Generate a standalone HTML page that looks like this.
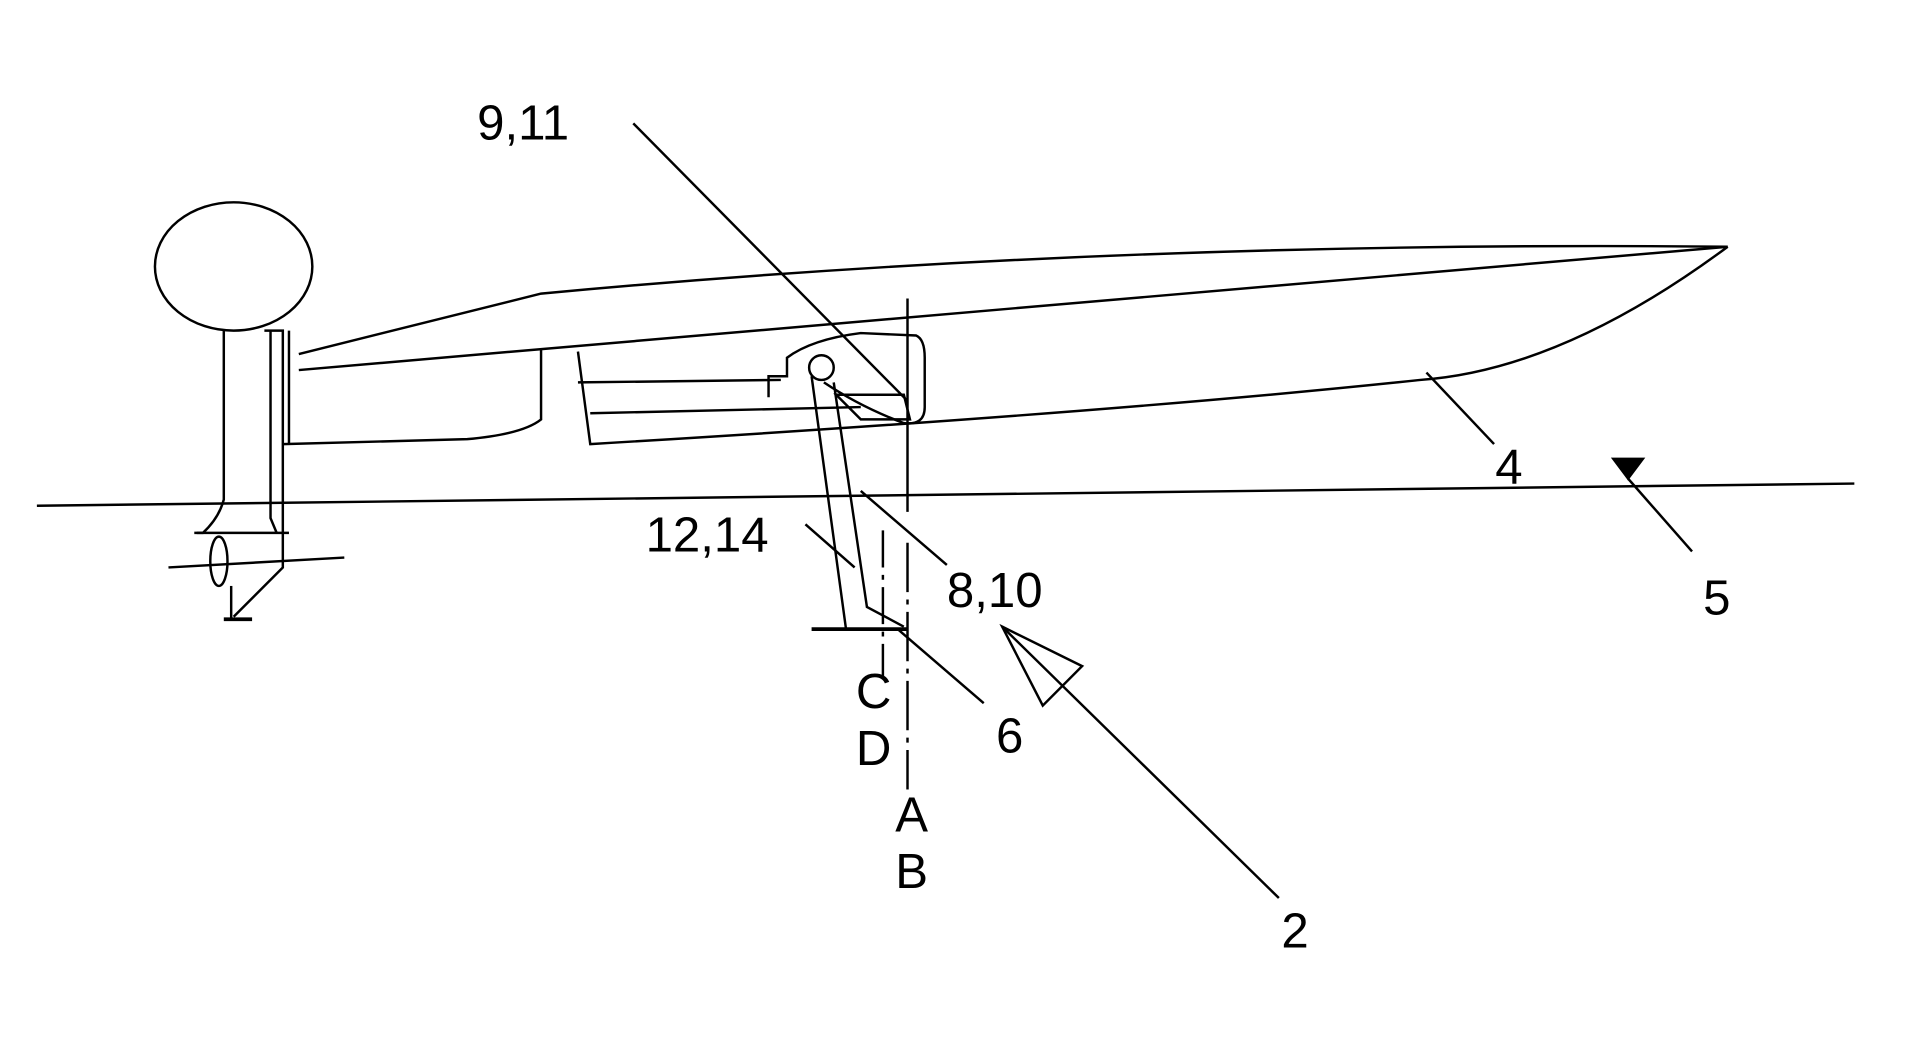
<!DOCTYPE html>
<html><head><meta charset="utf-8"><style>
html,body{margin:0;padding:0;background:#fff;width:1906px;height:1051px;overflow:hidden}
svg{display:block}
text{font-family:"Liberation Sans",sans-serif;font-size:40px;fill:#000}
</style></head><body>
<svg width="1906" height="1051" viewBox="0 0 1550 852" preserveAspectRatio="none" fill="none" stroke="#000" stroke-width="2">
<!-- water line -->
<line x1="30" y1="410" x2="1508" y2="392"/>
<polygon points="1312,372 1336,372 1324,388" fill="#000"/>
<line x1="1324" y1="388" x2="1376" y2="447"/>
<!-- hull -->
<path d="M243,287 L440,238 Q900,195 1405,200"/>
<path d="M243,300 L1405,200"/>
<path d="M1405,200 Q1270,300 1155,308 Q900,335 480,360 L470,285"/>
<path d="M440,283 L440,340 Q425,352 380,356 L230,360"/>
<line x1="470" y1="310" x2="635" y2="308"/>
<line x1="480" y1="335" x2="700" y2="330"/>
<line x1="1160" y1="302" x2="1215" y2="360"/>
<!-- motor -->
<ellipse cx="190" cy="216" rx="64" ry="52"/>
<path d="M182,268 L182,405 Q178,420 165,432 L160,432 M215,268 L230,268 L230,440 L230,460 L190,500"/>
<path d="M220,268 L220,420 L225,432"/>
<line x1="235" y1="268" x2="235" y2="360"/>
<line x1="158" y1="432" x2="235" y2="432"/>
<line x1="137" y1="460" x2="280" y2="452" />
<ellipse cx="178" cy="455" rx="7" ry="20"/>
<line x1="188" y1="475" x2="188" y2="502"/>
<line x1="182" y1="502" x2="205" y2="502" stroke-width="3"/>
<!-- strut assembly -->
<path d="M625,322 L625,305 L640,305 L640,290 Q660,275 700,270 L745,272 Q752,275 752,290 L752,330 Q752,345 735,343 Q700,330 670,310"/>
<circle cx="668" cy="298" r="10"/>
<path d="M660,305 L688,510 M678,310 L705,492 L735,508"/>
<path d="M680,320 L700,340 L740,340 L735,320 Z"/>
<line x1="738" y1="242" x2="738" y2="415"/>
<line x1="738" y1="440" x2="738" y2="640" stroke-dasharray="40,6,4,6"/>
<line x1="718" y1="430" x2="718" y2="550" stroke-dasharray="30,6,4,6"/>
<line x1="660" y1="510" x2="738" y2="510" stroke-width="3"/>
<!-- leaders -->
<line x1="515" y1="100" x2="738" y2="325"/>
<line x1="700" y1="398" x2="770" y2="458"/>
<line x1="655" y1="425" x2="695" y2="460"/>
<line x1="730" y1="510" x2="800" y2="570"/>
<line x1="815" y1="508" x2="1040" y2="728"/>
<polygon points="815,508 880,540 848,572"/>
<!-- labels -->
<text x="388" y="113" stroke="none">9,11</text>
<text x="525" y="447" stroke="none">12,14</text>
<text x="770" y="492" stroke="none">8,10</text>
<text x="1216" y="392" stroke="none">4</text>
<text x="1385" y="498" stroke="none">5</text>
<text x="810" y="610" stroke="none">6</text>
<text x="696" y="574" stroke="none">C</text>
<text x="696" y="620" stroke="none">D</text>
<text x="728" y="674" stroke="none">A</text>
<text x="728" y="720" stroke="none">B</text>
<text x="1042" y="768" stroke="none">2</text>
</svg>
</body></html>
